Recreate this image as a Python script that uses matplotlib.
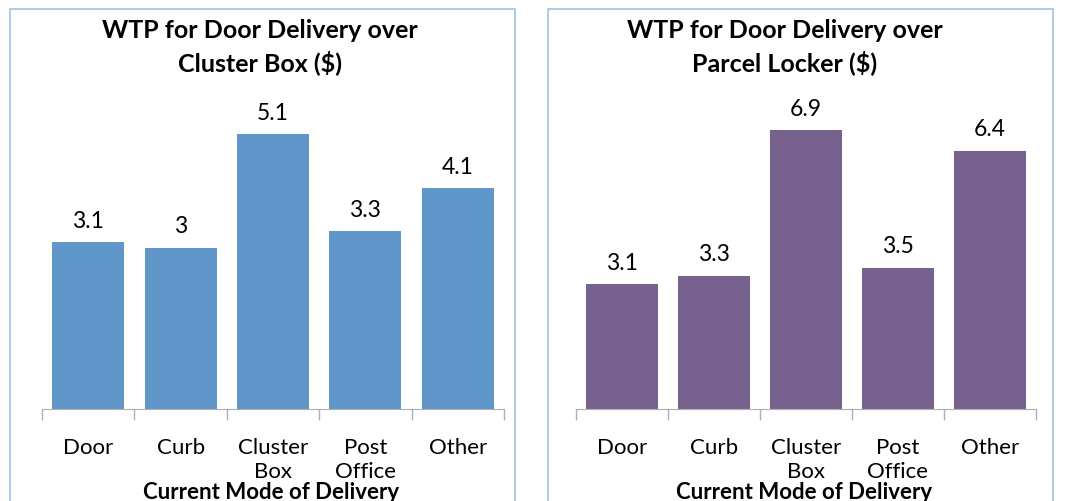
import matplotlib.pyplot as plt
from matplotlib.patches import Rectangle

plt.rcParams['font.family'] = ['Lato', 'DejaVu Sans']

categories = ['Door', 'Curb', 'Cluster\nBox', 'Post\nOffice', 'Other']
wtp_cluster_box = [3.1, 3.0, 5.1, 3.3, 4.1]
wtp_parcel_locker = [3.1, 3.3, 6.9, 3.5, 6.4]
value_labels_cluster = ['3.1', '3', '5.1', '3.3', '4.1']
value_labels_locker = ['3.1', '3.3', '6.9', '3.5', '6.4']

W, H = 1066, 502
fig = plt.figure(figsize=(W / 100, H / 100), dpi=100)


def px(x0, y0, x1, y1):
    # pixel box -> figure fraction [left, bottom, width, height]
    return [x0 / W, 1 - y1 / H, (x1 - x0) / W, (y1 - y0) / H]


def draw_panel(box, ax_box, values, labels, color, ymax, title, title_x):
    # panel frame (bottom runs off the image)
    fig.patches.append(Rectangle((box[0] / W, -0.1), (box[1] - box[0]) / W,
                                 1.1 - 10 / H, transform=fig.transFigure,
                                 fill=False, edgecolor='#9DC3E6', linewidth=1.2))
    ax = fig.add_axes(px(*ax_box))
    x = range(len(values))
    ax.bar(x, values, width=0.78, color=color)
    for xi, v, lab in zip(x, values, labels):
        ax.text(xi, v + ymax * 0.035, lab, ha='center', va='bottom', fontsize=16.5)
    ax.set_xlim(-0.5, 4.5)
    ax.set_ylim(0, ymax)
    ax.set_yticks([])
    for s in ['top', 'right', 'left']:
        ax.spines[s].set_visible(False)
    ax.spines['bottom'].set_color('#B0B0B0')
    ax.set_xticks(list(x))
    ax.set_xticklabels(categories, fontsize=16, linespacing=1.25, va='top')
    ax.tick_params(axis='x', which='major', length=0, pad=20)
    ax.set_xticks([i - 0.5 for i in range(len(values) + 1)], minor=True)
    ax.tick_params(axis='x', which='minor', length=8, color='#B0B0B0', width=1)
    fig.text(title_x / W, 1 - 47 / H, title, ha='center', va='center',
             fontsize=18, fontweight='bold', linespacing=1.35)
    fig.text(((ax_box[0] + ax_box[2]) / 2 - 2) / W, 1 - 493 / H,
             'Current Mode of Delivery', ha='center', va='center',
             fontsize=16, fontweight='bold')
    return ax


draw_panel((10, 515), (42, 87, 504, 410), wtp_cluster_box, value_labels_cluster,
           '#6096CA', 6, 'WTP for Door Delivery over\nCluster Box ($)', 260)
draw_panel((548, 1053), (576, 87, 1036, 410), wtp_parcel_locker, value_labels_locker,
           '#77618F', 8, 'WTP for Door Delivery over\nParcel Locker ($)', 785)

fig.savefig('out.png', dpi=100)
